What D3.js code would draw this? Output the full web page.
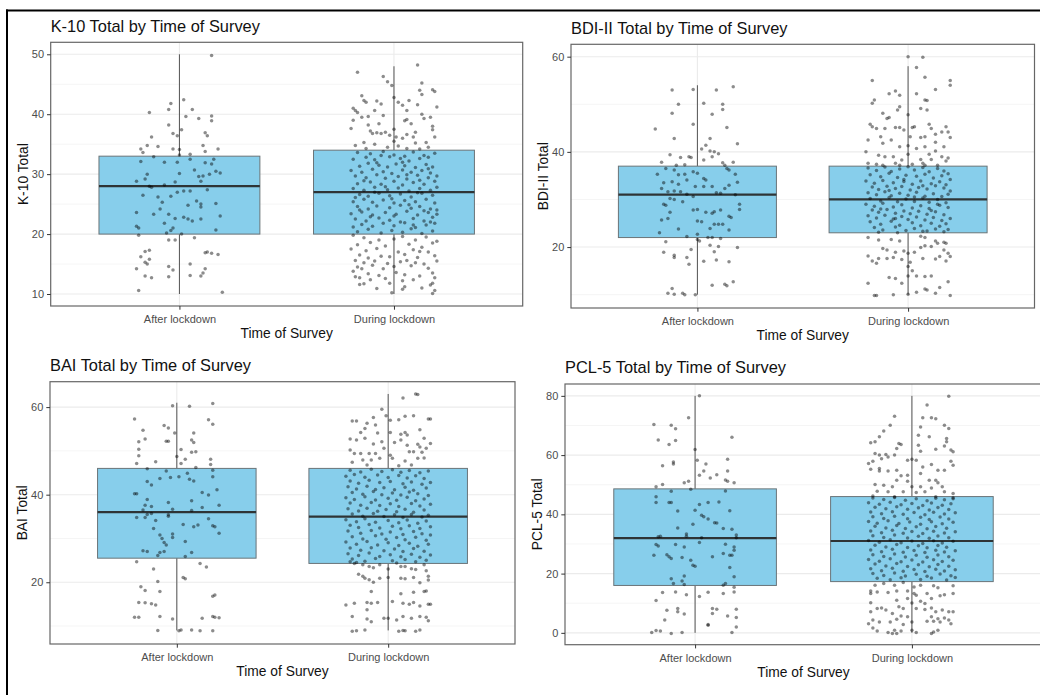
<!DOCTYPE html>
<html>
<head>
<meta charset="utf-8">
<script src="https://cdn.jsdelivr.net/npm/d3@7"></script>
<style>
  html, body { margin: 0; padding: 0; background: #fff; }
  svg { display: block; font-family: "Liberation Sans", Arial, sans-serif; }
</style>
</head>
<body>
<svg id="chart" width="1040" height="695"></svg>
<script>
// ---- categories and labels ----
const categories = ["After lockdown", "During lockdown"];
const xTitle = "Time of Survey";
const titles = ["K-10 Total by Time of Survey", "BDI-II Total by Time of Survey",
                "BAI Total by Time of Survey", "PCL-5 Total by Time of Survey"];
const yTitles = ["K-10 Total", "BDI-II Total", "BAI Total", "PCL-5 Total"];

// ---- y tick values ----
const k10Ticks = [10, 20, 30, 40, 50];
const bdiTicks = [20, 40, 60];
const baiTicks = [20, 40, 60];
const pclTicks = [0, 20, 40, 60, 80];

// ---- box statistics: [lower whisker, Q1, median, Q3, upper whisker] per category ----
const k10Box = [[10, 20, 28, 33, 50], [10, 20, 27, 34, 48]];
const bdiBox = [[10, 22, 31, 37, 54], [10, 23, 30, 37, 58]];
const baiBox = [[9, 25.5, 36, 46, 61], [9, 24.3, 35, 46, 63]];
const pclBox = [[0, 16, 32, 48.6, 80], [0, 17.3, 31, 46, 80]];

// ---- jittered respondents: [jitter offset (category units), total score] ----
const k10After = [[0.15,49.8],[0.02,42.4],[-0.04,41.8],[-0.05,40.8],[-0.14,40.3],[0.06,40.8],[0.15,39.7],[0.15,38.9],[0.09,39.3],[0.03,39.6],[-0.05,38.2],[0.01,37.4],[-0.03,36.8],[-0.01,36.4],[0.12,36.9],[0.13,36.4],[-0.13,36.2],[-0.15,34.8],[-0.18,34.2],[-0.1,34.6],[-0.03,34.2],[0.0,34.1],[0.11,34.8],[0.18,34.2],[0.12,33.8],[-0.17,33.6],[0.0,33.2],[0.05,33.3],
[-0.12,32.9],[-0.07,32.0],[-0.18,32.1],[-0.01,32.0],[0.05,32.5],[0.16,32.5],[0.15,31.7],[0.17,30.5],[0.19,30.2],[0.14,30.0],[-0.15,30.0],[-0.2,28.8],[-0.16,29.2],[-0.14,28.0],[-0.13,27.8],[-0.07,28.2],[0.0,30.1],[-0.01,27.0],[0.02,27.2],[0.09,29.6],[0.1,28.8],[0.11,29.7],[-0.1,26.2],[-0.04,26.3],[-0.08,25.3],[0.04,24.8],[0.08,25.5],[0.1,25.0],[0.1,24.5],[0.17,25.1],[-0.2,23.6],[-0.12,23.3],[-0.05,23.3],[-0.02,22.6],[0.02,22.8],[0.04,22.5],[0.06,22.2],[0.1,22.5],[0.19,23.0],[-0.07,21.8],[-0.2,21.3],[-0.19,21.0],[-0.03,21.0],[-0.04,20.6],[0.17,20.7],[-0.06,20.2],[0.01,20.0],[0.05,27.2],[-0.09,24.2],[0.12,31.9],[-0.02,28.7],[0.07,30.7],[-0.17,26.5],[0.13,27.4],
[-0.19,19.8],[-0.05,19.0],[-0.02,19.0],[0.07,19.4],[-0.14,17.3],[-0.16,17.1],[-0.18,16.2],[-0.16,15.3],[-0.15,15.0],[-0.14,15.8],[-0.2,14.2],[-0.05,14.6],[-0.03,14.0],[0.05,15.0],[0.13,17.0],[0.15,16.8],[0.18,16.6],[0.12,14.2],[0.11,13.5],[-0.16,13.0],[-0.13,12.7],[-0.05,12.9],[0.05,13.1],[0.1,13.0],[-0.19,10.6],[0.2,10.3],[0.12,16.9]];

const k10During = [[0.11,48.2],[-0.17,47.0],[-0.05,46.3],[-0.03,45.4],[-0.01,44.8],[0.13,45.2],[0.18,44.1],[0.12,44.0],[0.13,43.3],[0.0,42.8],[-0.15,43.1],[-0.14,42.3],[-0.13,42.0],[-0.08,42.2],[-0.06,41.7],[0.02,42.0],[0.07,42.3],[0.04,41.5],[0.11,41.6],[0.2,41.2],[0.19,43.8],[-0.19,41.0],[-0.18,40.6],[-0.17,40.3],[-0.15,39.5],[-0.12,39.6],[-0.19,39.0],[-0.09,40.6],[0.06,39.1],[0.05,38.9],[0.13,40.0],[0.14,39.3],[0.17,39.5],[0.18,38.0],[0.18,37.4],[-0.2,37.6],[-0.11,37.2],[-0.1,36.8],[-0.08,36.9],[-0.06,36.8],[-0.04,37.0],[-0.02,36.5],[0.0,37.5],[0.01,36.2],[0.06,36.6],[0.09,36.2],[0.04,36.0],[-0.14,35.3],[-0.09,35.0],[-0.18,34.8],[0.02,34.7],[0.06,34.3],[0.1,35.2],[0.15,35.3],[0.19,36.2],[0.1,37.0],[-0.12,38.2],[-0.05,39.8],[0.08,38.4],[-0.13,34.3],[0.16,34.5],[-0.03,34.5],[0.12,34.2],[0.0,35.5],[-0.07,38.4],[0.06,40.6],
[-0.17,33.6],[-0.11,33.4],[-0.05,33.8],[0.0,33.2],[0.05,33.0],[0.09,33.7],[0.14,33.1],[0.19,33.5],[-0.19,32.5],[-0.13,32.8],[-0.09,32.4],[-0.02,32.9],[0.03,32.6],[0.07,32.2],[0.12,32.6],[0.16,32.8],[-0.16,31.3],[-0.12,31.8],[-0.07,31.5],[-0.03,31.2],[0.01,31.7],[0.05,31.4],[0.1,31.1],[0.15,31.6],[0.18,31.2],[-0.2,30.6],[-0.15,30.3],[-0.1,30.8],[-0.05,30.4],[-0.01,30.1],[0.04,30.7],[0.08,30.3],[0.13,30.6],[0.17,30.2],[-0.18,29.7],[-0.13,29.4],[-0.08,29.9],[-0.04,29.3],[0.02,29.6],[0.06,29.2],[0.11,29.8],[0.16,29.4],[0.2,29.7],[-0.17,28.4],[-0.11,28.7],[-0.06,28.3],[0.0,28.8],[0.04,28.2],[0.09,28.6],[0.14,28.3],[0.19,28.8],[-0.19,27.6],[-0.14,27.3],[-0.09,27.8],[-0.03,27.4],[0.02,27.7],[0.07,27.2],[0.12,27.6],[0.17,27.3],[0.2,27.8],[-0.16,26.6],[-0.12,26.3],[-0.07,26.8],[-0.02,26.4],[0.03,26.7],[0.08,26.2],[0.13,26.8],[0.18,26.5],[-0.19,25.4],[-0.14,25.8],[-0.1,25.3],[-0.05,25.7],[0.0,25.2],[0.05,25.6],[0.1,25.4],[0.15,25.8],[0.19,25.2],[-0.17,24.6],[-0.12,24.2],[-0.08,24.7],[-0.02,24.4],[0.03,24.8],[0.08,24.3],[0.12,24.6],[0.17,24.2],[-0.2,23.4],[-0.15,23.7],[-0.1,23.2],[-0.04,23.6],[0.01,23.3],[0.06,23.8],[0.11,23.2],[0.16,23.6],[0.2,23.3],[-0.18,22.5],[-0.13,22.2],[-0.07,22.7],[-0.02,22.3],[0.03,22.0],[0.09,22.6],[0.14,22.2],[0.18,22.8],[-0.19,21.2],[-0.15,21.6],[-0.1,21.3],[-0.05,21.8],[0.0,21.4],[0.05,21.9],[0.1,21.1],[0.15,21.5],[0.19,21.8],[-0.17,20.4],[-0.12,20.8],[-0.06,20.2],[-0.01,20.6],[0.04,20.3],[0.08,20.9],[0.13,20.1],[0.18,20.5],[-0.08,31.9],[0.06,29.9],[-0.14,28.9],[0.11,26.9],[-0.01,25.9],[0.14,23.9],[-0.11,22.9],[0.07,24.9],[-0.04,27.9],[0.16,30.9],[-0.18,26.1],[0.2,24.0],[-0.06,33.1],[0.09,21.5],[0.0,23.0],[0.12,29.0],[-0.09,27.0],[0.04,32.0],[-0.16,24.0],[0.17,22.0],
[-0.19,19.8],[-0.14,19.4],[-0.07,19.0],[0.0,19.2],[0.04,19.6],[0.1,19.0],[0.15,19.5],[0.2,18.8],[-0.17,18.2],[-0.11,18.6],[-0.04,18.0],[0.07,18.3],[0.13,17.8],[0.18,18.5],[-0.2,17.5],[-0.13,17.2],[-0.08,17.6],[0.02,17.0],[0.09,17.4],[0.12,17.1],[0.16,17.0],[-0.16,16.5],[-0.12,16.0],[-0.06,16.3],[-0.02,16.2],[0.05,16.6],[0.11,16.1],[0.19,16.4],[-0.18,15.6],[-0.14,15.2],[-0.09,15.5],[-0.03,15.1],[0.03,15.4],[0.06,15.6],[0.1,15.2],[0.14,15.0],[0.2,15.5],[-0.17,14.5],[-0.15,14.2],[-0.1,14.8],[-0.05,14.2],[0.0,14.6],[0.08,14.7],[0.16,14.3],[-0.19,13.8],[-0.12,13.4],[-0.07,13.1],[0.01,13.6],[0.05,13.2],[0.12,13.0],[0.18,13.5],[-0.18,12.9],[-0.16,12.7],[-0.11,12.4],[-0.04,12.6],[0.04,12.2],[0.09,12.4],[0.19,12.7],[0.18,11.8],[-0.16,11.6],[-0.14,11.7],[-0.02,11.8],[0.05,11.2],[0.13,11.0],[0.17,11.5],[-0.01,10.2],[0.04,10.8],[0.18,10.1],[0.19,10.6],[-0.08,10.9]];

const bdiAfter = [[-0.12,53],[-0.02,53.1],[0.09,53],[0.17,53.7],[-0.09,50],[0.03,50.2],[0.12,50],[0.12,48.9],[-0.12,48.1],[0.07,47.9],[-0.02,45.8],[-0.2,44.8],[0.14,45.1],[-0.11,42.8],[0.06,42.8],[0.19,41.7],[0.04,41.4],[0.02,40.6],[0.06,40.2],[0.08,40],[0.1,39.6],[-0.13,39.4],[0.07,39],[-0.08,38.8],[-0.04,39],[-0.03,38.8],[-0.17,37.8],[0.12,37.7],[0.17,37.8],[0.03,38.3],[-0.06,37.3],[-0.1,37.2],[0.13,37.2],
[-0.15,36.5],[-0.11,36.2],[-0.19,35.3],[-0.09,35.2],[-0.06,35.3],[-0.02,35.8],[0.0,35.5],[0.03,34.4],[0.04,34.1],[0.14,36.5],[0.15,36.2],[0.18,35.3],[0.19,33.6],[-0.05,34.1],[-0.16,33.5],[-0.12,33.7],[-0.09,33.2],[-0.17,32.3],[-0.14,31.6],[-0.11,31.8],[-0.08,31.6],[-0.05,31.1],[-0.02,30.6],[-0.01,32.7],[0.03,32.7],[0.07,32.7],[0.09,31.4],[0.11,31.3],[0.13,32.3],[0.15,33.0],[0.18,31],[0.2,29],[0.2,27.9],[-0.16,29],[-0.15,28.8],[-0.13,30.2],[-0.11,30],[-0.07,29.5],[-0.02,27.8],[0.0,27.9],[0.04,27.3],[0.07,27.1],[0.08,27.4],[0.11,27.8],[0.15,26.5],[0.16,26.2],[-0.17,25.7],[-0.14,26],[-0.13,27.3],[0.0,25.5],[0.02,25.3],[0.08,24.8],[0.1,24.8],[0.12,24.8],[0.06,23.9],[0.15,23.6],[-0.09,23.8],[-0.18,23],[0.0,22.7],[-0.05,22.2],[0.05,22],[0.07,22],[0.11,21.8],
[-0.15,21.1],[0.0,21.6],[0.01,21.3],[0.1,20.1],[0.06,20.4],[0.19,19.9],[-0.03,19.5],[-0.16,18.9],[-0.11,18.3],[-0.11,17.8],[-0.05,17.8],[-0.04,16.4],[0.08,19],[0.15,16.9],[0.03,17],[0.09,17.3],[0.07,12],[0.13,12.2],[0.14,11.9],[0.17,12.7],[-0.12,11.3],[-0.14,10.3],[-0.11,10.1],[-0.07,10.3],[-0.06,10],[-0.01,10]];

const bdiDuring = [[0.0,60],[0.07,59.9],[0.04,57.7],[0.08,55.7],[-0.17,55],[0.2,55],[0.2,54],[0.13,53.1],[-0.09,52.2],[-0.06,52.8],[-0.04,51.9],[0.04,52.2],[-0.16,50.9],[-0.17,50.2],[0.08,50.9],[0.09,50.8],[0.06,49.1],[-0.04,49.5],[0.09,48.8],[-0.12,48.1],[-0.05,48.8],[0.0,47.8],[-0.1,47],[-0.09,47.2],[-0.18,45.8],[-0.17,45.3],[-0.15,44.9],[-0.11,44.9],[-0.06,45.1],[-0.04,45.1],[-0.02,44.6],[0.02,45.1],[0.03,45.3],[0.1,45.8],[0.11,44.9],[0.18,45.3],[0.19,44.2],[0.2,43],[0.13,43.7],[0.16,44.2],[0.13,42],[0.06,43],[0.08,43.2],[0.01,43.2],[-0.13,43.2],[-0.19,42.5],[-0.12,41.8],[-0.08,42.5],[-0.04,41.1],[0.0,41.3],[0.04,40.7],[0.08,41.1],[0.13,40.2],[0.17,41.1],[0.16,39],[0.1,39.5],[-0.2,40],[-0.14,39.3],[-0.11,39],[-0.07,39],[-0.03,38.3],[0.0,39.5],[0.06,38.4],[0.11,38.4],[0.19,38.7],[-0.19,37.6],[-0.15,37.4],[-0.12,37.2],[-0.06,37.6],[-0.04,37.2],[0.02,37.4],[0.07,37.6],[0.08,37.2],[0.14,37.2],[0.18,38.1],
[-0.19,36.6],[-0.15,36.1],[-0.11,36.8],[-0.08,35.9],[-0.04,36.4],[0.0,36.9],[0.03,36.2],[0.07,36.7],[0.1,35.8],[0.14,36.5],[0.17,36.0],[0.19,35.4],[-0.18,35.2],[-0.13,34.8],[-0.09,35.5],[-0.05,34.6],[-0.01,35.1],[0.04,34.9],[0.08,35.3],[0.12,34.5],[0.16,35.0],[0.2,34.2],[-0.2,33.9],[-0.16,33.4],[-0.12,34.0],[-0.07,33.5],[-0.02,33.8],[0.02,33.2],[0.06,33.9],[0.11,33.3],[0.15,33.7],[0.18,33.1],[-0.17,32.6],[-0.14,32.1],[-0.1,32.8],[-0.06,32.3],[-0.03,32.7],[0.01,32.0],[0.05,32.5],[0.09,32.2],[0.13,32.9],[0.17,32.4],[0.2,31.8],[-0.19,31.4],[-0.15,31.0],[-0.11,31.6],[-0.08,30.8],[-0.04,31.3],[0.0,30.9],[0.04,31.5],[0.08,30.7],[0.12,31.2],[0.16,30.6],[0.19,31.1],[-0.18,30.2],[-0.13,29.7],[-0.09,30.4],[-0.05,29.5],[-0.01,30.1],[0.03,29.6],[0.07,30.3],[0.1,29.4],[0.14,30.0],[0.18,29.3],[-0.2,29.0],[-0.16,28.6],[-0.12,29.2],[-0.07,28.4],[-0.03,28.9],[0.02,28.2],[0.06,28.7],[0.1,28.1],[0.15,28.8],[0.19,28.3],[-0.17,27.8],[-0.14,27.3],[-0.1,27.9],[-0.06,27.1],[-0.02,27.6],[0.01,27.0],[0.05,27.5],[0.09,26.9],[0.13,27.4],[0.17,26.8],[-0.19,26.6],[-0.15,26.1],[-0.11,26.7],[-0.07,25.9],[-0.03,26.4],[0.0,25.8],[0.04,26.3],[0.08,25.7],[0.12,26.2],[0.16,25.6],[0.2,26.0],[-0.18,25.3],[-0.13,24.8],[-0.08,25.4],[-0.04,24.6],[0.02,25.1],[0.06,24.5],[0.11,25.0],[0.15,24.4],[0.18,24.9],[-0.16,24.1],[-0.12,23.6],[-0.06,24.2],[-0.01,23.5],[0.03,23.9],[0.07,23.3],[0.13,23.8],[0.17,23.2],[-0.14,23.1],[-0.05,23.0],[0.09,23.4],[0.19,23.7],[-0.09,31.9],[0.11,27.7],[-0.13,28.0],[0.07,32.9],[-0.02,34.2],[0.14,29.0],[-0.06,26.0],[0.03,30.5],
[-0.19,22],[-0.14,21.5],[-0.08,21.6],[-0.04,21.3],[0.06,22.3],[0.08,22],[0.13,21.3],[0.14,20.8],[0.17,21],[0.18,20.8],[0.11,20.1],[0.08,20.3],[0.06,19.9],[-0.12,19.7],[-0.1,19.4],[-0.06,18.9],[-0.02,19.2],[0.0,18.7],[0.03,18.9],[0.17,19.4],[0.19,18.7],[0.2,18],[-0.19,18.1],[-0.17,17.1],[-0.14,17.6],[-0.1,17.6],[-0.07,17.8],[-0.03,17.4],[0.01,16.8],[0.07,17.6],[0.13,17.5],[0.15,18],[0.18,17.1],[-0.15,16.6],[0.0,15.9],[0.02,15],[-0.09,13.6],[-0.06,13.4],[-0.03,12.4],[0.0,13.9],[0.04,13.9],[0.08,13.8],[0.11,13.9],[0.19,12.7],[-0.19,12.4],[0.08,11.2],[0.15,11.5],[0.13,10.3],[0.2,9.8],[-0.16,9.8],[-0.15,9.8],[-0.07,10],[0.0,10.1],[0.04,10.5],[0.09,11]];

const baiAfter = [[0.17,60.8],[-0.02,60.3],[0.06,60.2],[0.15,57.1],[0.17,56.1],[-0.2,57.3],[-0.16,54.7],[-0.06,55.8],[-0.04,55.2],[-0.01,54.1],[0.08,54.1],[-0.15,52.7],[-0.18,52.1],[-0.05,52.2],[-0.04,52.2],[0.07,52.5],[0.08,51.9],[-0.18,50.4],[0.02,50.3],[0.07,49.7],[0.09,49.8],[-0.18,48.9],[0.0,48.7],[-0.1,47.5],[-0.19,47.1],[0.04,48.1],[0.02,47.1],[0.16,48.1],[0.16,46.9],[0.09,46.2],
[-0.14,45.9],[-0.05,45.4],[0.17,45.6],[0.17,44.1],[-0.03,43.9],[0.01,44.1],[0.05,44.9],[0.06,43.5],[0.08,43.1],[-0.14,43],[-0.12,42.2],[-0.08,43.7],[0.19,41.1],[-0.2,40.2],[-0.19,40.2],[0.12,40.5],[0.15,39.9],[-0.14,38.9],[-0.12,37.3],[-0.15,37.6],[-0.04,38.2],[0.07,38.6],[0.12,37.1],[0.2,37.6],[-0.16,36.5],[-0.12,35.7],[-0.02,36.7],[0.07,36.4],[-0.19,34.8],[-0.15,34.8],[-0.14,35.5],[-0.1,34.1],[-0.04,35.4],[-0.04,35.1],[0.15,34.5],[0.03,33.2],[0.08,32.7],[0.1,33.1],[0.17,32.9],[0.18,32.7],[-0.11,32.3],[-0.08,30.8],[-0.02,31],[-0.02,30.2],[-0.07,30],[-0.06,29.1],[-0.05,28.5],[0.04,29.3],[0.2,31.2],[-0.16,27.2],[-0.14,27],[0.07,26.8],[-0.06,27],[-0.09,26.1],[0.04,25.9],[-0.08,26.8],
[-0.19,24.7],[0.11,24.3],[0.14,23.5],[-0.11,23],[0.03,21.1],[0.04,20.8],[-0.09,20.2],[-0.17,19],[-0.15,18.1],[-0.08,17.9],[0.18,17.1],[0.17,16.8],[-0.18,15.4],[-0.15,15.3],[-0.12,15.1],[-0.1,14.8],[-0.2,12],[-0.18,12],[-0.08,12.2],[-0.02,11.6],[0.12,11.8],[0.17,12.2],[0.18,12],[0.2,11.9],[-0.09,9],[0.01,8.9],[0.07,9.1],[0.11,8.9],[0.17,8.9],[0.02,9.1]];

const baiDuring = [[0.07,62.1],[0.13,63],[0.14,62.9],[-0.03,59.5],[-0.07,57.6],[-0.01,58],[0.05,57.1],[0.08,57.9],[0.12,58],[0.19,57.3],[0.2,57.3],[-0.15,56.8],[-0.17,56.8],[-0.1,56.3],[-0.11,55.1],[-0.06,55.9],[0.01,57],[-0.05,54.1],[0.01,54.2],[0.15,54.8],[-0.13,54.2],[0.06,53.8],[0.08,54.2],[0.09,53.6],[0.17,52.9],[-0.18,52.7],[-0.15,52.5],[-0.11,52.9],[-0.07,51.6],[-0.03,52.1],[0.03,51.9],[0.06,52.5],[0.09,51.3],[0.14,51.5],[0.2,51.7],[0.18,50.6],[0.15,50.9],[-0.18,50.2],[-0.16,49.4],[-0.13,49.4],[-0.09,49.4],[-0.06,49.4],[-0.02,50.6],[0.01,49],[0.1,49.8],[0.12,49.8],[0.16,49.7],[-0.12,47.9],[-0.08,47.9],[-0.04,48.3],[0.02,48.3],[0.08,47.7],[0.14,48.3],[0.17,48.4],[-0.1,46.8],[-0.17,47.4],[0.05,46.6],[0.11,46.8],
[-0.18,45.6],[-0.13,45.2],[-0.08,45.8],[-0.03,45.3],[0.02,45.7],[0.06,45.1],[0.1,45.5],[0.15,45.0],[0.19,45.4],[-0.2,44.2],[-0.16,44.6],[-0.11,44.0],[-0.05,44.5],[0.0,43.9],[0.05,44.4],[0.09,43.8],[0.13,44.3],[0.17,43.7],[-0.18,43.1],[-0.14,42.6],[-0.09,43.3],[-0.04,42.8],[0.01,43.0],[0.07,42.5],[0.11,42.9],[0.16,42.4],[0.2,42.8],[-0.19,41.8],[-0.15,41.3],[-0.1,41.9],[-0.06,41.2],[-0.02,41.6],[0.03,41.1],[0.08,41.7],[0.12,41.0],[0.18,41.5],[-0.17,40.5],[-0.12,40.1],[-0.07,40.7],[-0.03,40.0],[0.02,40.4],[0.06,39.9],[0.1,40.6],[0.14,40.2],[0.19,39.8],[-0.2,39.3],[-0.16,38.9],[-0.11,39.5],[-0.06,38.8],[0.0,39.2],[0.04,38.7],[0.09,39.4],[0.13,38.6],[0.17,39.0],[-0.18,38.1],[-0.13,37.6],[-0.08,38.2],[-0.04,37.5],[0.01,37.9],[0.05,37.3],[0.11,38.0],[0.15,37.4],[0.2,37.8],[-0.19,36.8],[-0.14,36.3],[-0.1,36.9],[-0.05,36.2],[-0.01,36.6],[0.04,36.1],[0.08,36.7],[0.12,36.0],[0.17,36.5],[-0.17,35.6],[-0.12,35.1],[-0.07,35.7],[-0.02,35.0],[0.03,35.4],[0.07,34.8],[0.11,35.5],[0.16,34.9],[0.19,35.3],[-0.2,34.3],[-0.15,33.8],[-0.11,34.5],[-0.06,33.7],[0.0,34.1],[0.05,33.6],[0.09,34.2],[0.14,33.5],[0.18,34.0],[-0.18,33.0],[-0.14,32.5],[-0.09,33.2],[-0.04,32.4],[0.02,32.8],[0.06,32.2],[0.1,32.9],[0.15,32.3],[0.2,32.7],[-0.19,31.7],[-0.13,31.2],[-0.08,31.8],[-0.03,31.0],[0.01,31.5],[0.07,30.9],[0.12,31.6],[0.16,31.1],[-0.17,30.4],[-0.12,29.9],[-0.06,30.6],[-0.01,29.8],[0.04,30.2],[0.08,29.7],[0.13,30.3],[0.18,29.6],[0.2,30.8],[-0.2,29.2],[-0.15,28.7],[-0.1,29.3],[-0.05,28.5],[0.0,29.0],[0.05,28.4],[0.1,28.9],[0.14,28.2],[0.19,28.7],[-0.18,27.8],[-0.13,27.3],[-0.08,27.9],[-0.02,27.2],[0.03,27.6],[0.07,27.0],[0.12,27.7],[0.17,27.1],[-0.19,26.5],[-0.14,26.1],[-0.09,26.7],[-0.04,25.9],[0.01,26.3],[0.06,25.8],[0.11,26.4],[0.15,25.7],[0.2,26.2],[-0.17,25.3],[-0.11,24.8],[-0.06,25.4],[0.02,24.9],[0.08,25.2],[0.13,24.7],[0.18,25.0],[-0.15,24.5],[0.04,24.4],
[-0.18,24.7],[-0.16,24.3],[-0.12,24],[-0.09,23.6],[-0.07,23.3],[-0.04,24],[0.0,23],[0.06,23.6],[0.08,23.6],[0.11,23.1],[0.13,22.9],[0.17,24],[0.18,22.6],[-0.14,21.8],[-0.12,21.4],[-0.11,20.9],[-0.09,20.6],[-0.07,20],[-0.04,20.9],[0.0,21.1],[0.06,20.9],[0.08,20.8],[0.12,21.1],[0.15,19.9],[0.19,21.4],[0.19,20.5],[0.18,18],[0.17,17.9],[-0.08,17.9],[0.06,17.4],[0.12,17.7],[-0.16,15.2],[-0.2,14.8],[-0.1,15.4],[-0.08,15.2],[-0.05,15.4],[0.02,15.6],[0.07,15.2],[0.1,15],[0.12,15.4],[0.19,15],[0.2,15],[0.15,14.6],[-0.1,13.7],[-0.17,12.2],[-0.1,11.6],[-0.08,11],[-0.02,11.8],[0.0,11.8],[0.04,11.4],[0.07,12.2],[0.11,11.8],[0.15,12.2],[0.18,12],[0.19,11.2],[-0.17,8.8],[-0.15,8.9],[-0.11,9.1],[0.05,8.8],[0.07,9],[0.08,8.9],[0.13,8.8],[0.15,9.1]];

const pclAfter = [[0.02,80],[-0.03,72.6],[-0.19,70.3],[-0.11,70.1],[-0.09,68.9],[0.17,66],[-0.17,65.1],[-0.09,64.9],[-0.12,63.6],[-0.1,57.7],[-0.1,57],[-0.15,56.4],[0.0,61.9],[0.01,58.3],[0.05,57],[0.15,58.6],[0.04,54.6],[0.02,53.2],[0.1,53.4],[0.07,52.3],[0.15,54.6],[0.14,51.6],[0.15,51.2],[0.18,50.7],[-0.05,50.7],[-0.03,51.2],[-0.15,50.1],[-0.18,49.3],[-0.02,48.5],
[-0.18,45.9],[-0.11,47.8],[0.14,47.9],[-0.18,44],[-0.12,44],[-0.11,44],[0.06,44],[0.11,44.2],[0.02,43.3],[0.16,41.2],[-0.08,41.1],[0.0,41.4],[0.03,39.7],[0.04,39.2],[0.06,38.4],[0.09,37.2],[0.1,37.1],[-0.01,36.7],[-0.08,35.4],[0.13,35.2],[0.17,35],[-0.04,33.4],[-0.04,32.6],[-0.16,32.6],[-0.17,32.4],[0.03,32.1],[0.19,33],[0.19,32.1],[-0.09,29.8],[-0.05,29],[-0.18,29.8],[-0.17,29.3],[0.02,30.5],[0.14,29.9],[0.18,29],[0.18,27.9],[0.13,26.8],[0.16,26.2],[0.17,26.2],[-0.19,26.2],[-0.13,26.4],[-0.12,25.7],[-0.11,25.1],[-0.06,25.4],[-0.02,24.5],[0.08,25.7],[-0.01,22.8],[0.0,22.5],[0.16,22.1],[-0.05,19.2],[-0.11,18.3],[0.18,18.9],[-0.06,17.5],[-0.1,16.7],[-0.05,16.3],[0.14,16.7],[0.13,16.1],
[0.18,15.4],[-0.09,13.8],[0.06,13.7],[0.13,13.3],[0.18,13.8],[-0.04,12.9],[-0.15,13.6],[0.02,12.3],[-0.18,10.9],[-0.13,7.6],[-0.08,8.2],[-0.08,7.1],[-0.05,6.4],[0.08,8.2],[0.1,8],[0.08,6.5],[0.19,8],[0.19,5.2],[0.15,5.7],[-0.14,4.3],[0.06,2.6],[0.06,2.8],[0.19,2],[-0.2,0.1],[-0.18,0.8],[-0.16,0.6],[-0.11,-0.2],[-0.06,0.1],[0.17,0.1]];

const pclDuring = [[0.17,79.9],[0.07,76.9],[-0.08,73.1],[0.05,72.6],[0.09,72.6],[0.11,72.3],[0.15,70.1],[0.17,69],[-0.1,70.1],[-0.13,68.1],[0.04,69.5],[-0.15,66.2],[-0.19,64.2],[-0.17,64.5],[0.03,66.7],[0.08,66.2],[0.16,65.6],[0.16,64.5],[-0.06,63.9],[-0.05,63.6],[-0.07,62.2],[0.03,63.3],[0.18,61.7],[0.19,61.1],[0.11,62],[0.15,63.1],[0.04,61.3],[-0.17,60.5],[-0.15,60],[-0.12,60.2],[-0.11,59.4],[-0.08,60],[-0.2,57.2],[-0.18,57.9],[-0.14,58.8],[-0.02,58.3],[0.0,58.6],[0.02,58.3],[0.05,56],[0.09,56.8],[0.18,57.9],[0.19,56.6],[-0.19,55.2],[-0.15,55.5],[-0.15,54.6],[-0.11,54.6],[-0.07,54.9],[-0.05,53],[-0.02,53.2],[0.04,53.8],[0.12,54.9],[0.15,54.9],[-0.02,51.2],[-0.07,51.5],[0.08,51.5],[0.11,51.5],[0.12,50.7],[-0.17,50.1],[-0.13,49.8],[-0.09,49.3],[0.0,49.3],[0.04,49.3],[0.09,48.9],[0.14,49.3],[-0.16,47.8],[-0.11,47.6],[-0.04,47.6],[0.02,47.4],[0.06,47.6],[0.15,47.6],[0.19,47],[-0.18,46.2],[-0.08,45.9],[0.11,45.9],[0.19,45.3],
[-0.18,45.5],[-0.13,45.0],[-0.08,45.7],[-0.03,44.8],[0.02,45.3],[0.07,44.6],[0.11,45.4],[0.15,44.9],[0.19,45.6],[-0.2,43.9],[-0.15,43.4],[-0.1,44.1],[-0.05,43.2],[0.0,43.7],[0.05,43.0],[0.09,43.8],[0.14,43.1],[0.18,43.6],[-0.17,42.4],[-0.12,41.9],[-0.07,42.6],[-0.02,41.7],[0.03,42.2],[0.08,41.5],[0.12,42.3],[0.17,41.6],[-0.19,40.8],[-0.14,40.2],[-0.09,40.9],[-0.04,40.0],[0.01,40.6],[0.06,39.9],[0.1,40.7],[0.15,40.1],[0.2,40.5],[-0.18,39.2],[-0.13,38.6],[-0.08,39.4],[-0.02,38.5],[0.04,39.0],[0.08,38.3],[0.13,39.1],[0.17,38.4],[-0.2,37.6],[-0.16,37.0],[-0.11,37.8],[-0.06,36.9],[-0.01,37.4],[0.04,36.7],[0.09,37.5],[0.14,36.8],[0.19,37.3],[-0.17,36.0],[-0.12,35.4],[-0.07,36.2],[-0.03,35.2],[0.02,35.8],[0.07,35.1],[0.11,35.9],[0.16,35.3],[-0.19,34.4],[-0.14,33.8],[-0.09,34.6],[-0.04,33.6],[0.0,34.2],[0.05,33.5],[0.1,34.3],[0.15,33.7],[0.2,34.1],[-0.18,32.8],[-0.13,32.2],[-0.08,33.0],[-0.02,32.0],[0.03,32.6],[0.08,31.9],[0.12,32.7],[0.17,32.1],[-0.2,31.2],[-0.15,30.6],[-0.1,31.4],[-0.05,30.4],[0.0,31.0],[0.05,30.2],[0.1,31.1],[0.14,30.3],[0.19,30.9],[-0.17,29.6],[-0.12,29.0],[-0.07,29.8],[-0.02,28.8],[0.03,29.4],[0.07,28.7],[0.12,29.5],[0.16,28.9],[-0.19,28.0],[-0.14,27.4],[-0.09,28.2],[-0.04,27.2],[0.01,27.8],[0.06,27.1],[0.11,27.9],[0.15,27.3],[0.2,27.7],[-0.18,26.4],[-0.13,25.8],[-0.08,26.6],[-0.03,25.6],[0.02,26.2],[0.07,25.5],[0.12,26.3],[0.17,25.7],[-0.2,24.8],[-0.15,24.2],[-0.1,25.0],[-0.05,24.0],[0.0,24.6],[0.05,23.9],[0.1,24.7],[0.14,24.1],[0.19,24.5],[-0.17,23.2],[-0.12,22.6],[-0.07,23.4],[-0.02,22.4],[0.03,23.0],[0.08,22.3],[0.12,23.1],[0.17,22.5],[-0.19,21.6],[-0.14,21.0],[-0.09,21.8],[-0.04,20.8],[0.01,21.4],[0.06,20.7],[0.11,21.5],[0.15,20.9],[0.2,21.3],[-0.18,20.0],[-0.13,19.4],[-0.08,20.2],[-0.03,19.2],[0.02,19.8],[0.07,19.1],[0.13,19.9],[0.18,19.3],[-0.16,18.4],[-0.1,17.9],[-0.05,18.6],[0.04,18.0],[0.09,18.5],[0.16,17.8],[0.2,18.7],
[-0.17,16.1],[-0.13,16.7],[-0.08,16.1],[-0.04,17],[0.01,15.5],[0.04,16.1],[0.1,15.9],[0.12,15.2],[0.19,15.9],[0.19,13.3],[-0.19,14.1],[-0.19,13.3],[-0.16,13.8],[-0.11,13.6],[-0.07,14.1],[-0.02,14.1],[0.01,13.3],[0.02,12.7],[0.07,13.3],[0.13,12.5],[0.15,12.9],[0.09,11.6],[-0.02,11.6],[-0.07,11],[0.04,10.7],[0.0,10.1],[0.06,9.9],[-0.19,10.2],[-0.16,8.2],[-0.14,8.4],[-0.12,7.7],[-0.06,8.8],[-0.04,8.2],[0.02,8.2],[0.06,7.9],[0.09,8.4],[0.11,7.1],[0.14,7.7],[0.17,7.1],[0.19,7.1],[-0.19,7.1],[-0.09,6.5],[-0.05,5.7],[-0.02,5.4],[0.09,5.4],[0.12,4.8],[0.15,5],[0.17,4.3],[-0.18,4.3],[-0.15,3.7],[-0.1,3.7],[-0.07,4.6],[-0.04,2.8],[0.0,3.7],[0.07,3.9],[0.1,3.9],[0.13,3.7],[0.18,3.1],[-0.2,3.1],[-0.18,1.6],[-0.16,0.6],[-0.08,0.9],[-0.05,0.6],[0.0,0.9],[0.02,0.1],[-0.09,-0.2],[-0.07,-0.2],[0.09,-0.2],[0.1,0.3],[0.12,0.9],[-0.11,0.1]];

// ---- panel layout ----
const panels = [
  { title: titles[0], yTitle: yTitles[0], ticks: k10Ticks, box: k10Box, pts: [k10After, k10During],
    left: 50.7, top: 42.3, right: 522.7, bottom: 306, domain: [8, 52] },
  { title: titles[1], yTitle: yTitles[1], ticks: bdiTicks, box: bdiBox, pts: [bdiAfter, bdiDuring],
    left: 571, top: 44.3, right: 1034.5, bottom: 308, domain: [7.2, 62.6] },
  { title: titles[2], yTitle: yTitles[2], ticks: baiTicks, box: baiBox, pts: [baiAfter, baiDuring],
    left: 50, top: 381.7, right: 515, bottom: 644, domain: [5.9, 65.8] },
  { title: titles[3], yTitle: yTitles[3], ticks: pclTicks, box: pclBox, pts: [pclAfter, pclDuring],
    left: 565, top: 384, right: 1042, bottom: 644.7, domain: [-4, 84] }
];

const svg = d3.select("#chart");
svg.append("rect").attr("width", 1040).attr("height", 695).attr("fill", "#fff");

function drawPanel(p) {
  const g = svg.append("g");
  const x = d3.scalePoint().domain(categories).range([p.left, p.right]).padding(0.6);
  const y = d3.scaleLinear().domain(p.domain).range([p.bottom, p.top]);
  const step = x.step();

  // minor grid lines halfway between major ticks
  const tickStep = p.ticks[1] - p.ticks[0];
  const minors = [];
  for (let v = p.ticks[0] - tickStep / 2; v <= p.domain[1]; v += tickStep) {
    if (v >= p.domain[0]) minors.push(v);
  }
  g.append("g").selectAll("line").data(minors).join("line")
    .attr("x1", p.left).attr("x2", p.right)
    .attr("y1", d => y(d)).attr("y2", d => y(d))
    .attr("stroke", "#f2f2f2").attr("stroke-width", 0.8);
  g.append("g").selectAll("line").data(p.ticks).join("line")
    .attr("x1", p.left).attr("x2", p.right)
    .attr("y1", d => y(d)).attr("y2", d => y(d))
    .attr("stroke", "#ebebeb").attr("stroke-width", 1.1);
  g.append("g").selectAll("line").data(categories).join("line")
    .attr("x1", d => x(d)).attr("x2", d => x(d))
    .attr("y1", p.top).attr("y2", p.bottom)
    .attr("stroke", "#ebebeb").attr("stroke-width", 1.1);

  // boxes
  const boxW = step * 0.75;
  const bx = g.append("g").selectAll("g").data(categories).join("g");
  bx.append("line")
    .attr("x1", d => x(d)).attr("x2", d => x(d))
    .attr("y1", (d, i) => y(p.box[i][0])).attr("y2", (d, i) => y(p.box[i][1]))
    .attr("stroke", "#555").attr("stroke-width", 1);
  bx.append("line")
    .attr("x1", d => x(d)).attr("x2", d => x(d))
    .attr("y1", (d, i) => y(p.box[i][3])).attr("y2", (d, i) => y(p.box[i][4]))
    .attr("stroke", "#555").attr("stroke-width", 1);
  bx.append("rect")
    .attr("x", d => x(d) - boxW / 2).attr("width", boxW)
    .attr("y", (d, i) => y(p.box[i][3]))
    .attr("height", (d, i) => y(p.box[i][1]) - y(p.box[i][3]))
    .attr("fill", "#87ceeb").attr("stroke", "#6a7478").attr("stroke-width", 1);
  bx.append("line")
    .attr("x1", d => x(d) - boxW / 2).attr("x2", d => x(d) + boxW / 2)
    .attr("y1", (d, i) => y(p.box[i][2])).attr("y2", (d, i) => y(p.box[i][2]))
    .attr("stroke", "#2e3436").attr("stroke-width", 2.2);

  // jittered points
  categories.forEach((c, i) => {
    g.append("g").selectAll("circle").data(p.pts[i]).join("circle")
      .attr("cx", d => x(c) + d[0] * step)
      .attr("cy", d => y(d[1]))
      .attr("r", 1.75)
      .attr("fill", "#000").attr("fill-opacity", 0.45);
  });

  // panel border
  g.append("rect")
    .attr("x", p.left).attr("y", p.top)
    .attr("width", p.right - p.left).attr("height", p.bottom - p.top)
    .attr("fill", "none").attr("stroke", "#666").attr("stroke-width", 1.2);

  // axes
  const ya = g.append("g").attr("transform", `translate(${p.left},0)`)
    .call(d3.axisLeft(y).tickValues(p.ticks).tickSize(3.7).tickPadding(3));
  const xa = g.append("g").attr("transform", `translate(0,${p.bottom})`)
    .call(d3.axisBottom(x).tickSize(3.7).tickPadding(5.6));
  [ya, xa].forEach(a => {
    a.select(".domain").remove();
    a.selectAll(".tick line").attr("stroke", "#333");
    a.selectAll(".tick text").attr("fill", "#4d4d4d")
      .style("font-size", "11px").style("font-family", "'Liberation Sans', Arial, sans-serif");
  });

  // titles
  g.append("text").attr("x", p.left).attr("y", p.top - 10.8)
    .attr("fill", "#111").style("font-size", "16.4px").text(p.title);
  g.append("text")
    .attr("x", (p.left + p.right) / 2).attr("y", p.bottom + 32)
    .attr("text-anchor", "middle").attr("fill", "#111")
    .style("font-size", "13.8px").text(xTitle);
  g.append("text")
    .attr("transform", `translate(${p.left - 28 + 5},${(p.top + p.bottom) / 2}) rotate(-90)`)
    .attr("text-anchor", "middle").attr("fill", "#111")
    .style("font-size", "13.8px").text(p.yTitle);
}

panels.forEach(drawPanel);

// outer frame lines
svg.append("line").attr("x1", 6).attr("x2", 1040).attr("y1", 10.5).attr("y2", 10.5)
  .attr("stroke", "#000").attr("stroke-width", 2);
svg.append("line").attr("x1", 7).attr("x2", 7).attr("y1", 9.5).attr("y2", 695)
  .attr("stroke", "#000").attr("stroke-width", 2);
</script>
</body>
</html>
